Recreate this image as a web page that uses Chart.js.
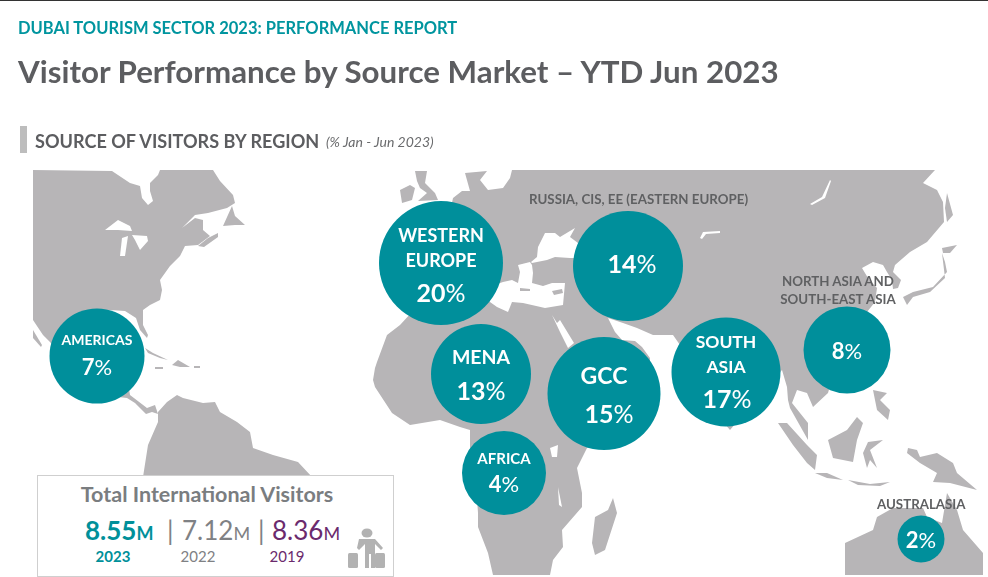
<!DOCTYPE html>
<html>
<head>
<meta charset="utf-8">
<title>Visitor Performance by Source Market</title>
<script src="https://cdn.jsdelivr.net/npm/chart.js@4"></script>
<style>
  html, body { margin: 0; padding: 0; background: #fff; }
  body { width: 988px; height: 577px; position: relative; overflow: hidden; font-family: Lato, "Open Sans", sans-serif; }
  #map { position: absolute; left: 0; top: 0; width: 988px; height: 577px; }
  .t { position: absolute; white-space: nowrap; line-height: 1; transform: translateY(-50%); }
  .c { transform: translate(-50%, -50%); text-align: center; }
  .b { font-weight: 700; }
  .bubble-text { color: #fff; font-weight: 700; }
  .bubble-text span { font-weight: 400; }
  .ext { color: #5f6062; font-weight: 700; font-size: 13.3px; }
  #topline { position: absolute; left: 0; top: 0; width: 988px; height: 1px; background: #333; }
  #bar { position: absolute; left: 20px; top: 126px; width: 7px; height: 27px; background: #bdbdbd; }
  #panel { position: absolute; left: 37px; top: 475px; width: 355px; height: 100px; background: #fff; border: 1px solid #cfcfcf; }
  #icon { position: absolute; left: 346px; top: 526px; }
</style>
</head>
<body>
<canvas id="map" width="988" height="577"></canvas>
<div id="topline"></div>
<div class="t b" style="left:18px;top:28px;font-size:16.5px;color:#00959f">DUBAI TOURISM SECTOR 2023: PERFORMANCE REPORT</div>
<div class="t b" style="left:18px;top:72px;font-size:31.3px;color:#5c5d60">Visitor Performance by Source Market – YTD Jun 2023</div>
<div id="bar"></div>
<div class="t b" style="left:35px;top:141px;font-size:18.1px;color:#5c5d60">SOURCE OF VISITORS BY REGION</div>
<div class="t" style="left:326px;top:142px;font-size:14px;font-style:italic;color:#6a6b6d">(% Jan - Jun 2023)</div>

<div class="t ext" style="left:529px;top:200px">RUSSIA, CIS, EE (EASTERN EUROPE)</div>
<div class="t ext c" style="left:838px;top:282px">NORTH ASIA AND</div>
<div class="t ext c" style="left:838px;top:300px">SOUTH-EAST ASIA</div>
<div class="t ext" style="left:877px;top:505px">AUSTRALASIA</div>

<div id="panel"></div>
<div class="t c b" style="left:207px;top:495px;font-size:21.5px;color:#7a7d80">Total International Visitors</div>
<div class="t" id="v23" style="left:85px;top:530px;font-size:26px;font-weight:700;color:#00909a">8.55<span style="font-size:18px">M</span></div>
<div class="t" style="left:167px;top:530px;font-size:26px;color:#7f8184">|</div>
<div class="t" style="left:182px;top:530px;font-size:26px;color:#7f8184">7.12<span style="font-size:18px">M</span></div>
<div class="t" style="left:258px;top:530px;font-size:26px;color:#7f8184">|</div>
<div class="t" style="left:272px;top:530px;font-size:26px;color:#6b2a6d">8.36<span style="font-size:18px">M</span></div>
<div class="t b c" style="left:113px;top:556px;font-size:15px;color:#00909a">2023</div>
<div class="t c" style="left:198px;top:556px;font-size:15px;color:#7f8184">2022</div>
<div class="t c" style="left:287px;top:556px;font-size:15px;color:#6b2a6d">2019</div>
<svg id="icon" width="40" height="44" viewBox="0 0 40 44">
  <g fill="#b2b2b2">
    <ellipse cx="21" cy="7" rx="5.5" ry="4.5"/>
    <path d="M13 13h16l8 9-2 2-6-6v24h-4V28h-2v14h-4V18l-6 6-2-2z"/>
    <rect x="2" y="27" width="10" height="15" rx="1.5"/>
    <rect x="29" y="27" width="10" height="15" rx="1.5"/>
  </g>
</svg>

<script>
// bubble values, one entry per region
const regions = ["Western Europe", "Russia, CIS, EE", "MENA", "GCC", "South Asia", "North Asia and SEA", "Africa", "Australasia", "Americas"];
const shares = [20, 14, 13, 15, 17, 8, 4, 2, 7];
const bubbleX = [441, 628, 481, 604, 726, 847, 504, 921, 97];
const bubbleY = [263, 266, 374, 393.5, 372, 350, 473, 539, 356];
const bubbleR = [62, 55, 50, 56.5, 54.5, 43.5, 42, 23.5, 47.5];

// text printed inside the bubbles
const insideNames = [["WESTERN", "EUROPE"], [], ["MENA"], ["GCC"], ["SOUTH", "ASIA"], [], ["AFRICA"], [], ["AMERICAS"]];

// land outlines in map units
const landNorthAmerica = [[33,170],[112,171],[130,183],[140,186],[142,198],[148,205],[153,201],[150,191],[150,183],[158,175],[160,170],[213,170],[220,181],[233,195],[235,203],[227,208],[208,213],[195,215],[182,228],[195,218],[203,220],[203,230],[210,236],[198,245],[185,246],[180,256],[170,266],[160,280],[162,290],[160,300],[150,305],[143,310],[143,325],[148,335],[147,338],[140,330],[136,318],[125,311],[110,310],[100,312],[85,322],[90,350],[100,375],[128,383],[130,395],[147,408],[155,405],[158,414],[152,412],[146,414],[135,403],[127,398],[100,395],[75,370],[60,355],[50,342],[43,335],[33,320]];
const landBaja = [[33,330],[42,345],[41,347],[33,338]];
const landNewfoundland = [[223,226],[232,206],[235,216],[245,225],[235,225]];
const landNovaScotia = [[198,246],[208,238],[218,233],[218,237],[204,247]];
const landCuba = [[145,348],[153,353],[168,360],[160,358],[148,353]];
const landHispaniola = [[172,365],[178,360],[190,367],[180,367]];
const landJamaica = [[155,367],[163,367],[163,369],[155,369]];
const landPuertoRico = [[194,366],[200,366],[200,368],[194,368]];
const landSouthAmerica = [[143,477],[148,445],[158,422],[158,412],[167,402],[177,395],[183,398],[203,403],[215,402],[220,412],[237,422],[250,432],[253,448],[273,455],[298,462],[312,477]];
const landEurasiaAfrica = [[453,198],[462,191],[470,191],[465,173],[487,171],[480,180],[488,190],[503,188],[510,178],[512,170],[935,170],[923,183],[937,190],[943,202],[944,222],[927,242],[910,252],[895,265],[893,272],[901,280],[898,288],[893,289],[892,280],[887,272],[883,265],[873,262],[862,268],[868,278],[877,288],[875,302],[867,312],[840,350],[828,393],[813,407],[807,393],[797,390],[792,403],[808,423],[808,440],[790,408],[788,400],[787,387],[782,370],[760,395],[730,430],[700,395],[680,345],[673,335],[653,335],[637,328],[623,323],[608,318],[615,332],[622,340],[635,341],[642,347],[650,358],[650,370],[640,410],[610,430],[587,448],[577,468],[582,493],[582,507],[562,530],[563,547],[553,560],[550,575],[493,575],[488,553],[478,527],[478,513],[475,470],[470,453],[470,430],[460,427],[440,420],[410,425],[392,413],[375,387],[373,380],[375,368],[377,362],[387,335],[400,325],[412,312],[440,260]];
const landBritain = [[415,171],[427,171],[425,183],[435,193],[438,200],[418,201],[427,193],[420,188],[417,181]];
const landIreland = [[400,190],[410,185],[415,188],[412,200],[402,203]];
const landMadagascar = [[613,498],[617,513],[605,550],[595,555],[592,543],[595,517],[608,510]];
const landSumatra = [[778,423],[787,423],[807,445],[817,455],[815,470],[807,463],[793,445]];
const landJava = [[815,473],[827,473],[843,480],[827,478]];
const landLesserSunda = [[848,480],[870,484],[890,482],[880,486],[858,485]];
const landBorneo = [[828,440],[847,430],[857,417],[863,423],[857,440],[853,462],[833,458]];
const landSulawesi = [[863,453],[868,442],[883,440],[870,450],[877,468],[870,460],[867,468]];
const landPhilippines = [[873,390],[887,393],[880,400],[890,410],[888,420],[877,410]];
const landNewGuinea = [[908,448],[917,450],[920,457],[937,453],[953,463],[957,473],[977,490],[950,483],[933,482],[937,473],[920,463],[907,453]];
const landAustralia = [[845,575],[845,543],[873,530],[877,517],[893,508],[923,508],[927,517],[942,523],[947,493],[957,510],[963,530],[983,553],[983,575]];
const landHonshu = [[942,253],[945,262],[947,272],[933,287],[913,292],[903,297],[907,305],[913,297],[930,292],[945,278]];
const landHokkaido = [[942,248],[957,245],[950,253],[943,253]];
const landSakhalin = [[947,193],[953,215],[947,222],[945,208]];
const landCrete = [[520,288],[530,289],[530,291],[520,291]];
const landCyprus = [[552,291],[562,289],[563,293],[554,295]];

// water drawn over the land
const waterMediterranean = [[480,290],[503,282],[512,280],[518,283],[520,272],[518,265],[530,262],[532,265],[533,273],[532,283],[543,286],[552,283],[565,283],[563,305],[545,308],[523,303],[512,302],[508,312],[497,307],[490,302]];
const waterBlackSea = [[537,257],[538,247],[545,233],[555,233],[560,237],[575,228],[570,237],[578,243],[578,258],[570,258],[555,257],[547,260],[532,263],[531,262]];
const waterRedSea = [[552,315],[557,323],[560,320],[574,343],[568,348],[560,332]];
const waterSuperior = [[105,230],[118,220],[130,226],[132,231],[118,230]];
const waterMichigan = [[122,238],[128,236],[125,256],[120,256]];
const waterHuron = [[132,235],[147,236],[148,241],[140,250],[135,240]];
const waterVictoria = [[550,448],[558,445],[557,457],[552,457]];
const waterMalawi = [[558,487],[562,507],[559,505]];
const waterAral = [[700,238],[703,232],[720,231],[720,233],[706,234],[702,239]];
const waterBaikal = [[810,204],[822,197],[830,180],[831,181],[825,198],[812,205]];

const LAND = "#b7b5b7";
const TEAL = "#008f9b";

const landShapes = [landNorthAmerica, landBaja, landNewfoundland, landNovaScotia, landCuba, landHispaniola, landJamaica, landPuertoRico, landSouthAmerica, landEurasiaAfrica, landBritain, landIreland, landMadagascar, landSumatra, landJava, landLesserSunda, landBorneo, landSulawesi, landPhilippines, landNewGuinea, landAustralia, landHonshu, landHokkaido, landSakhalin];
const waterShapes = [waterMediterranean, waterBlackSea, waterRedSea, waterSuperior, waterMichigan, waterHuron, waterVictoria, waterMalawi, waterAral, waterBaikal];
const islandShapes = [landCrete, landCyprus];

function shapeDataset(points, color, order) {
  return {
    type: "line",
    data: points.map(p => ({ x: p[0], y: p[1] })),
    fill: "shape",
    backgroundColor: color,
    borderWidth: 0,
    pointRadius: 0,
    tension: 0,
    order: order
  };
}

const chart = new Chart(document.getElementById("map"), {
  type: "bubble",
  data: {
    datasets: [
      {
        label: "Share of visitors",
        data: regions.map((name, i) => ({ x: bubbleX[i], y: bubbleY[i], r: bubbleR[i] })),
        backgroundColor: TEAL,
        borderWidth: 0,
        order: 0
      },
      ...islandShapes.map(s => shapeDataset(s, LAND, 1)),
      ...waterShapes.map(s => shapeDataset(s, "#ffffff", 2)),
      ...landShapes.map(s => shapeDataset(s, LAND, 3))
    ]
  },
  options: {
    responsive: false,
    animation: false,
    layout: { padding: 0, autoPadding: false },
    events: [],
    plugins: { legend: { display: false }, tooltip: { enabled: false } },
    scales: {
      x: { type: "linear", min: 0, max: 988, display: false },
      y: { type: "linear", min: 0, max: 577, reverse: true, display: false }
    }
  }
});

/* ---------- TEXT INSIDE THE BUBBLES ---------- */
const nameSize = [18, 0, 19.5, 23, 17.5, 0, 15, 0, 14];
const nameOffset = [[-28, -3], [], [-17], [-19], [-30, -5], [], [-15], [], [-16]];
const shareSize = [25, 25, 25, 25, 25, 22, 22, 22, 22];
const shareOffset = [29, -3, 16, 19, 26, 1, 11, 1, 11];
const shareShift = [0, 4, 0, 5, 1, 0, 0, 0, 0];

function addText(html, x, y, size) {
  const el = document.createElement("div");
  el.className = "t c bubble-text";
  el.style.left = x + "px";
  el.style.top = y + "px";
  el.style.fontSize = size + "px";
  el.innerHTML = html;
  document.body.appendChild(el);
}

regions.forEach((name, i) => {
  const px = chart.scales.x.getPixelForValue(bubbleX[i]);
  const py = chart.scales.y.getPixelForValue(bubbleY[i]);
  insideNames[i].forEach((line, k) => addText(line, px, py + nameOffset[i][k], nameSize[i]));
  addText(`${shares[i]}<span>%</span>`, px + shareShift[i], py + shareOffset[i], shareSize[i]);
});
</script>
</body>
</html>
